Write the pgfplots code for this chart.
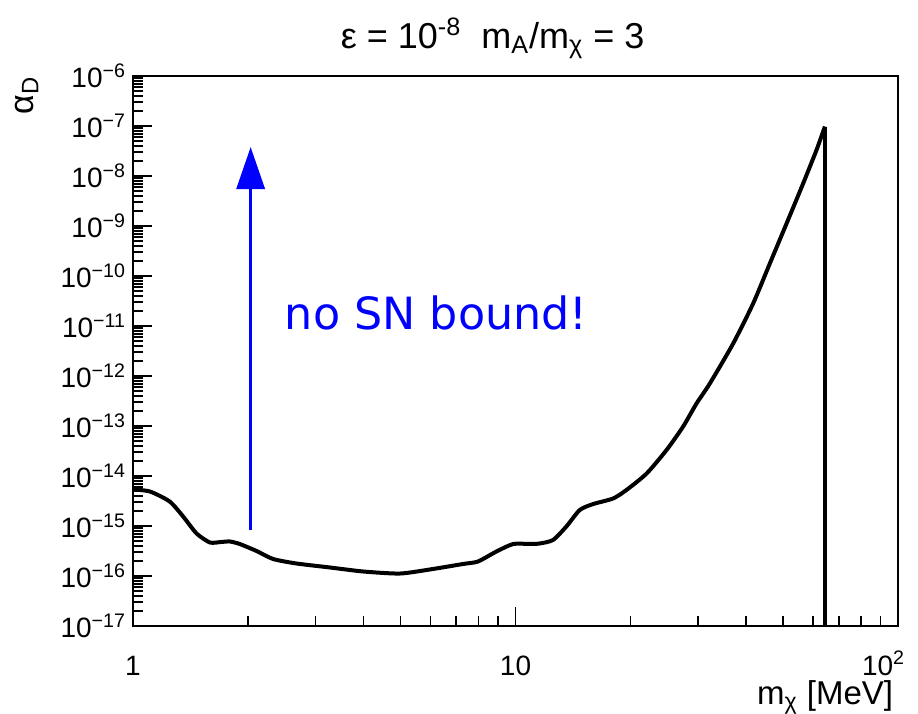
\documentclass[border=0pt]{standalone}
\usepackage{pgfplots}
\pgfplotsset{compat=1.18}
\usetikzlibrary{arrows.meta}
\usepackage{fontspec}
\setmainfont{Liberation Sans}
\newfontfamily\djv{DejaVu Sans}
\newcommand{\tp}[1]{10\textsuperscript{#1}}
\begin{document}
\begin{tikzpicture}
\begin{axis}[
  scale only axis, width=382.5pt, height=275pt,
  xmode=log, ymode=log,
  xmin=1, xmax=100, ymin=1e-17, ymax=1e-6,
  xtickten={0,1,2},
  ytickten={-17,-16,-15,-14,-13,-12,-11,-10,-9,-8,-7,-6},
  xticklabels={1,10,\makebox[0pt][r]{\tp{2}\kern-3.5pt}},
  yticklabels={\tp{−17},\tp{−16},\tp{−15},\tp{−14},\tp{−13},\tp{−12},\tp{−11},\tp{−10},\tp{−9},\tp{−8},\tp{−7},\tp{−6}},
  tick pos=left, tick align=inside,
  major tick length=9.5pt, minor tick length=5pt,
  axis line style={line width=1.2pt},
  every tick/.style={black, line width=0.8pt},
  ticklabel style={font=\fontsize{14}{16}\selectfont},
  xticklabel style={anchor=base, inner sep=0pt, yshift=-24.5pt},
  clip=false,
]
\addplot[black, line width=2pt, smooth, tension=0.4] coordinates {
(1.000,5.37e-15) (1.107,4.90e-15) (1.247,3.09e-15) (1.352,1.55e-15)
(1.466,7.08e-16) (1.589,4.68e-16) (1.698,4.79e-16) (1.791,4.90e-16)
(1.901,4.37e-16) (2.104,3.16e-16) (2.323,2.19e-16) (2.673,1.78e-16)
(3.273,1.48e-16) (4.000,1.23e-16) (4.977,1.12e-16) (5.970,1.35e-16)
(7.295,1.74e-16) (7.980,1.95e-16) (8.913,3.09e-16) (9.863,4.37e-16)
(10.89,4.37e-16) (11.56,4.47e-16) (12.53,5.25e-16) (13.58,9.77e-16)
(14.72,2.09e-15) (15.96,2.75e-15) (17.99,3.55e-15) (19.50,5.25e-15)
(22.01,1.12e-14) (24.82,3.31e-14) (27.43,9.77e-14) (29.73,2.82e-13)
(32.21,7.08e-13) (37.07,4.47e-12) (41.80,2.82e-11) (46.22,1.78e-10)
(51.11,1.12e-9) (56.48,7.08e-9) (61.22,3.31e-8) (64.38,9.77e-8)
};
\addplot[black, line width=2pt] coordinates {(64.38,9.77e-8) (64.38,1e-17)};
\draw[blue, line width=1.7pt, -{Triangle[length=21pt,width=14pt]}] (axis cs:2.03,8.3e-16) -- (axis cs:2.03,3.8e-8);
\node[anchor=base west, text=blue, font=\djv\fontsize{22.2}{26}\selectfont, inner sep=0pt] at (axis cs:2.49,8.7e-12) {no SN bound!};
\node[anchor=base, yshift=14pt, font=\fontsize{18}{20}\selectfont, inner sep=0pt] at (axis description cs:0.47,1) {ε = 10\textsuperscript{-8}\ \ m\textsubscript{A}/m\textsubscript{χ} = 3};
\node[rotate=90, anchor=east, font=\fontsize{17}{19}\selectfont, inner sep=0pt] at (axis description cs:-0.139,1.0) {α\textsubscript{D}};
\node[anchor=base east, yshift=-39pt, font=\fontsize{16.5}{18}\selectfont, inner sep=0pt] at (axis description cs:0.994,0) {m\textsubscript{χ} [MeV]};
\path (axis description cs:-0.1739,-0.1545) rectangle (axis description cs:1.0261,1.1382);
\end{axis}
\end{tikzpicture}
\end{document}
